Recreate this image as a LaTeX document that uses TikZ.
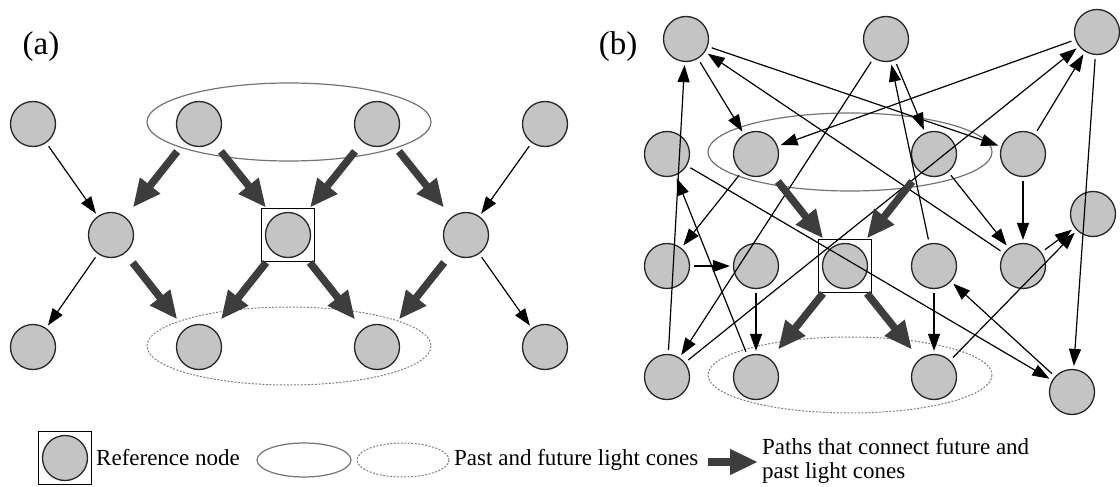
\documentclass[tikz,border=0pt]{standalone}
\usepackage{fontspec}
\setmainfont{Liberation Serif}
\usetikzlibrary{arrows.meta}

\begin{document}
\begin{tikzpicture}[x=1pt,y=-1pt,
	vertex/.style={circle,draw=black!85,line width=1.3pt,fill=black!23,minimum size=45pt,inner sep=0pt},
	refbox/.style={draw,line width=0.8pt,minimum size=53pt,inner sep=0pt},
	link/.style={line width=1.2pt,-{Triangle[length=17pt,width=12pt]},shorten <=4pt,shorten >=3pt},
	route/.style={line width=7.5pt,draw=black!76,-{Triangle[length=28pt,width=24pt]},shorten <=12pt,shorten >=12pt},
	cone/.style={draw=black!55,line width=1.2pt},
	dotcone/.style={draw=black!50,line width=1pt,dash pattern=on 2pt off 1.5pt},
	caption/.style={inner sep=0pt,font=\fontsize{33}{36}\selectfont},
	keytext/.style={inner sep=0pt,anchor=west,align=left,font=\fontsize{23}{24}\selectfont}]
	\useasboundingbox (0,0) rectangle (1120,487);

	\node[caption] (capa) at (41,47) {(a)};
	\node[caption] (capb) at (618,47) {(b)};

	\foreach \n/\x/\y in {ta1/33/124, ta2/199/124, ta3/377/124, ta4/545/124,
		ma1/111/235, ma2/288/235, ma3/466/235,
		ba1/33/347, ba2/199/347, ba3/377/347, ba4/545/347}{
		\node[vertex] (\n) at (\x,\y) {};
	}
	\node[refbox] (boxa) at (ma2) {};
	\draw[cone] (289,122) ellipse [x radius=142,y radius=39];
	\draw[dotcone] (289,346) ellipse [x radius=142,y radius=39];
	\foreach \a/\b in {ta1/ma1, ta4/ma3, ma1/ba1, ma3/ba4}{
		\draw[link] (\a) -- (\b);
	}
	\foreach \a/\b in {ta2/ma1, ta2/ma2, ta3/ma2, ta3/ma3, ma1/ba2, ma2/ba2, ma2/ba3, ma3/ba3}{
		\draw[route] (\a) -- (\b);
	}

	\foreach \n/\x/\y in {tb1/686/39, tb2/886/39, tb3/1097/32,
		ub1/667/154, ub2/756/154, ub3/934/154, ub4/1023/154, sb/1093/214,
		mb1/667/266, mb2/756/266, rb/845/266, mb3/934/266, mb4/1023/266,
		lb1/667/377, lb2/756/377, lb3/934/377, lb4/1072/392}{
		\node[vertex] (\n) at (\x,\y) {};
	}
	\node[refbox] (boxb) at (rb) {};
	\draw[cone] (850,152) ellipse [x radius=142,y radius=39];
	\draw[dotcone] (850,375) ellipse [x radius=142,y radius=38];
	\foreach \a/\b in {tb1/ub2, tb1/ub4, mb4/tb1, lb1/tb1, tb2/ub3, tb2/lb1, mb3/tb2,
		tb3/ub2, tb3/lb4, lb1/tb3, ub4/tb3, ub1/lb4, lb2/ub1, ub2/mb1, mb1/mb2,
		mb2/lb2, ub3/mb4, ub4/mb4, mb3/lb3, lb4/mb3, mb4/sb, lb3/sb}{
		\draw[link] (\a) -- (\b);
	}
	\foreach \a/\b in {ub2/rb, ub3/rb, rb/lb2, rb/lb3}{
		\draw[route] (\a) -- (\b);
	}

	\node[vertex] (keynode) at (65,458) {};
	\node[refbox] (keybox) at (keynode) {};
	\node[keytext] (keyref) at (96,458) {Reference node};
	\draw[cone] (304,460) ellipse [x radius=47,y radius=17];
	\draw[dotcone] (403,460) ellipse [x radius=46,y radius=17];
	\node[keytext] (keycone) at (454,460) {Past and future light cones};
	\coordinate (keyfrom) at (708,462);
	\coordinate (keyto) at (758,462);
	\draw[route,shorten <=0pt,shorten >=0pt] (keyfrom) -- (keyto);
	\node[keytext] (keyroute) at (762,461) {Paths that connect future and\\past light cones};
\end{tikzpicture}
\end{document}
